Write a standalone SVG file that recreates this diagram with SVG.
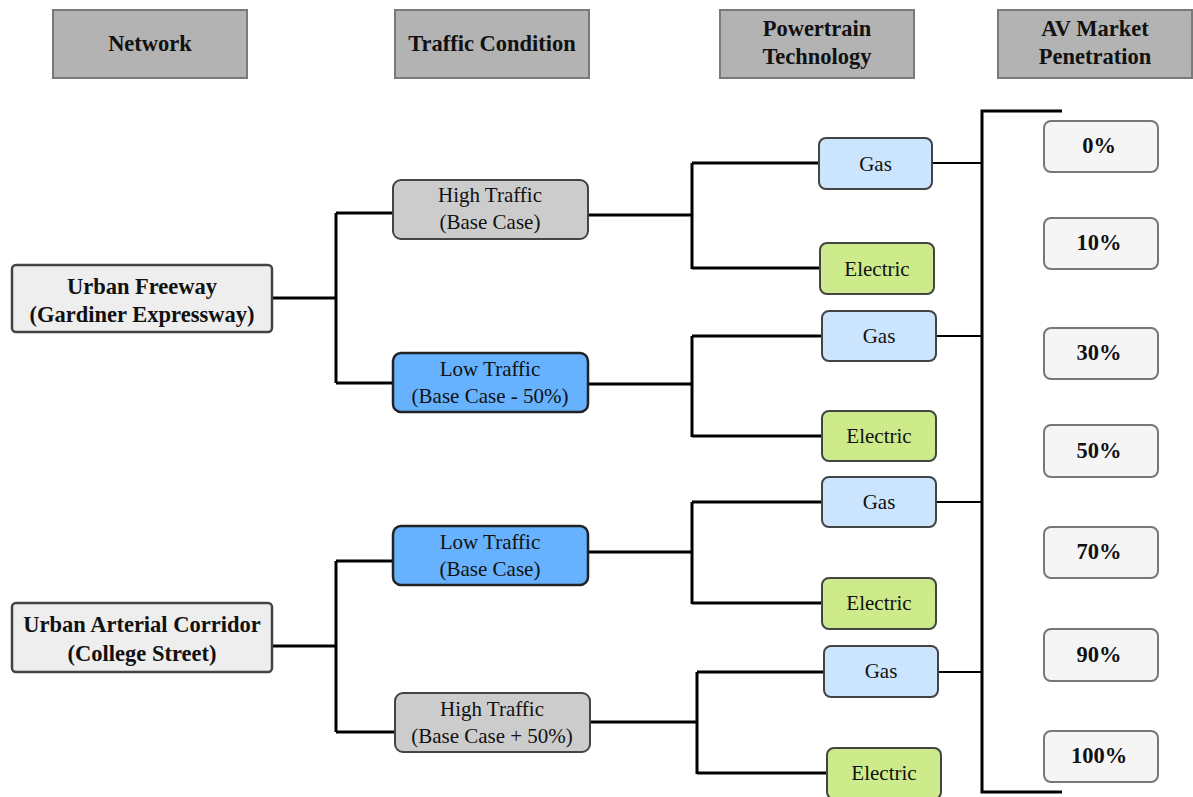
<svg xmlns="http://www.w3.org/2000/svg" width="1193" height="797" viewBox="0 0 1193 797">
  <style>
    text { font-family: "Liberation Serif", "DejaVu Serif", serif; fill: #111; text-anchor: middle; }
    .hdr rect { fill: #b3b3b3; stroke: #7a7a7a; stroke-width: 2; }
    .hdr text { font-size: 22.5px; font-weight: bold; }
    .net rect { fill: #eeeeee; stroke: #444; stroke-width: 2.5; }
    .net text { font-size: 22.5px; font-weight: bold; }
    .hi rect { fill: #cccccc; stroke: #444; stroke-width: 2; }
    .lo rect { fill: #66b2ff; stroke: #222; stroke-width: 2.5; }
    .tc text, .pt text { font-size: 21px; }
    .gas rect { fill: #cce5ff; stroke: #444; stroke-width: 2; }
    .ele rect { fill: #cdeb8b; stroke: #444; stroke-width: 2; }
    .pct rect { fill: #f5f5f5; stroke: #777; stroke-width: 2; }
    .pct text { font-size: 22.5px; font-weight: bold; }
    .wire { fill: none; stroke: #000; stroke-width: 3; }
    .thin { fill: none; stroke: #000; stroke-width: 2; }
  </style>

  <!-- column headers -->
  <g id="hdr-network" class="hdr"><rect x="53" y="10" width="194" height="68"/><text x="150" y="51">Network</text></g>
  <g id="hdr-traffic" class="hdr"><rect x="395" y="10" width="194" height="68"/><text x="492" y="51">Traffic Condition</text></g>
  <g id="hdr-powertrain" class="hdr"><rect x="720" y="10" width="194" height="68"/><text x="817" y="36">Powertrain</text><text x="817" y="64">Technology</text></g>
  <g id="hdr-av" class="hdr"><rect x="998" y="10" width="194" height="68"/><text x="1095" y="36">AV Market</text><text x="1095" y="64">Penetration</text></g>

  <!-- connectors -->
  <g id="connectors">
    <path class="wire" d="M272,298 H336 M336,213 V383 M336,213 H393 M336,383 H393"/>
    <path class="wire" d="M272,646 H336 M336,561 V732 M336,561 H393 M336,732 H395"/>
    <path class="wire" d="M588,215 H692 M692,163 V269 M692,163 H819 M692,268 H820"/>
    <path class="wire" d="M588,384 H692 M692,336 V437 M692,336 H822 M692,436 H822"/>
    <path class="wire" d="M588,552 H692 M692,502 V604 M692,502 H822 M692,603 H822"/>
    <path class="wire" d="M590,722 H697 M697,672 V774 M697,672 H824 M697,773 H827"/>
    <path class="thin" d="M932,163 H982 M936,336 H982 M936,502 H982 M938,672 H982"/>
    <path class="wire" d="M1062,111 H982 V792 H1062"/>
  </g>

  <!-- networks -->
  <g id="net-freeway" class="net"><rect x="12" y="265" width="260" height="67" rx="4"/><text x="142" y="294">Urban Freeway</text><text x="142" y="322">(Gardiner Expressway)</text></g>
  <g id="net-arterial" class="net"><rect x="12" y="603" width="260" height="69" rx="4"/><text x="142" y="632">Urban Arterial Corridor</text><text x="142" y="661">(College Street)</text></g>

  <!-- traffic conditions -->
  <g id="tc-high-base" class="tc hi"><rect x="393" y="180" width="195" height="59" rx="8"/><text x="490" y="202">High Traffic</text><text x="490" y="229">(Base Case)</text></g>
  <g id="tc-low-minus" class="tc lo"><rect x="393" y="353" width="195" height="59" rx="8"/><text x="490" y="376">Low Traffic</text><text x="490" y="403">(Base Case - 50%)</text></g>
  <g id="tc-low-base" class="tc lo"><rect x="393" y="526" width="195" height="59" rx="8"/><text x="490" y="549">Low Traffic</text><text x="490" y="576">(Base Case)</text></g>
  <g id="tc-high-plus" class="tc hi"><rect x="395" y="693" width="195" height="59" rx="8"/><text x="492" y="716">High Traffic</text><text x="492" y="743">(Base Case + 50%)</text></g>

  <!-- powertrain technologies -->
  <g id="pt-gas-1" class="pt gas"><rect x="819" y="138" width="113" height="51" rx="7"/><text x="875.5" y="171">Gas</text></g>
  <g id="pt-ele-1" class="pt ele"><rect x="820" y="243" width="114" height="51" rx="7"/><text x="877" y="276">Electric</text></g>
  <g id="pt-gas-2" class="pt gas"><rect x="822" y="311" width="114" height="50" rx="7"/><text x="879" y="343">Gas</text></g>
  <g id="pt-ele-2" class="pt ele"><rect x="822" y="411" width="114" height="50" rx="7"/><text x="879" y="443">Electric</text></g>
  <g id="pt-gas-3" class="pt gas"><rect x="822" y="477" width="114" height="50" rx="7"/><text x="879" y="509">Gas</text></g>
  <g id="pt-ele-3" class="pt ele"><rect x="822" y="578" width="114" height="51" rx="7"/><text x="879" y="610">Electric</text></g>
  <g id="pt-gas-4" class="pt gas"><rect x="824" y="646" width="114" height="51" rx="7"/><text x="881" y="678">Gas</text></g>
  <g id="pt-ele-4" class="pt ele"><rect x="827" y="748" width="114" height="51" rx="7"/><text x="884" y="780">Electric</text></g>

  <!-- AV market penetration levels -->
  <g id="pct-0" class="pct"><rect x="1044" y="121" width="114" height="51" rx="7"/><text x="1099" y="153">0%</text></g>
  <g id="pct-10" class="pct"><rect x="1044" y="218" width="114" height="51" rx="7"/><text x="1099" y="250">10%</text></g>
  <g id="pct-30" class="pct"><rect x="1044" y="328" width="114" height="51" rx="7"/><text x="1099" y="360">30%</text></g>
  <g id="pct-50" class="pct"><rect x="1044" y="425" width="114" height="52" rx="7"/><text x="1099" y="458">50%</text></g>
  <g id="pct-70" class="pct"><rect x="1044" y="527" width="114" height="51" rx="7"/><text x="1099" y="559">70%</text></g>
  <g id="pct-90" class="pct"><rect x="1044" y="629" width="114" height="52" rx="7"/><text x="1099" y="662">90%</text></g>
  <g id="pct-100" class="pct"><rect x="1044" y="731" width="114" height="51" rx="7"/><text x="1099" y="763">100%</text></g>
</svg>
